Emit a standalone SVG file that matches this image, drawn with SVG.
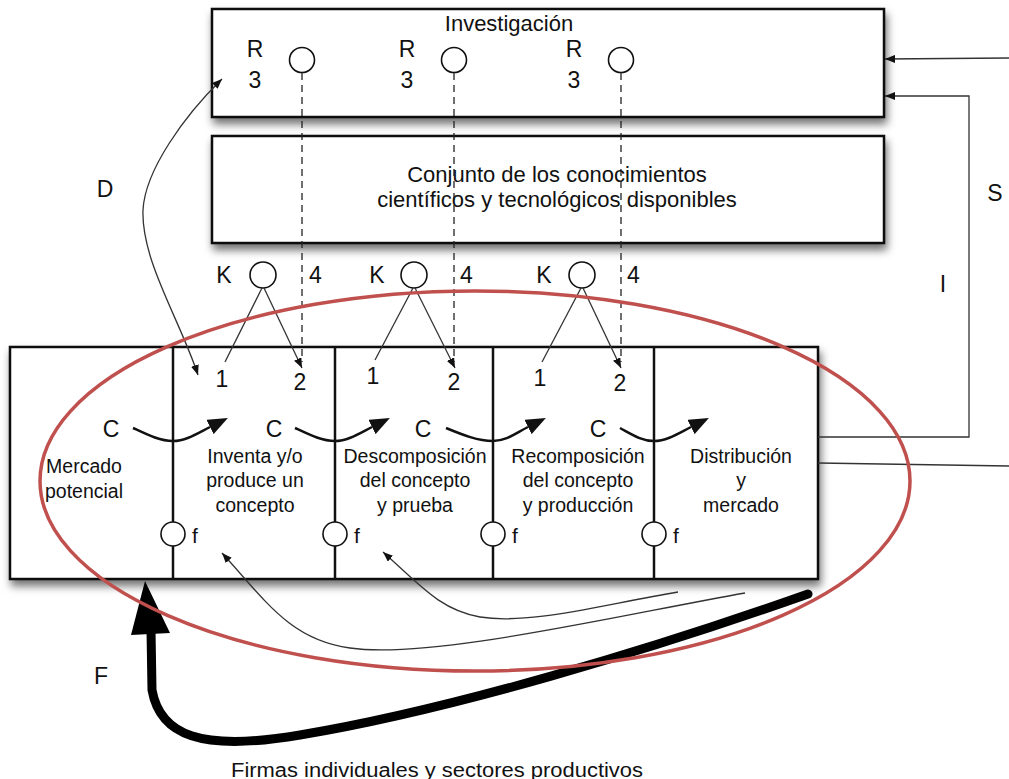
<svg xmlns="http://www.w3.org/2000/svg" width="1009" height="779" viewBox="0 0 1009 779">
<defs>
<style>
text{font-family:"Liberation Sans",Arial,sans-serif;fill:#111}
.box{fill:#fff;stroke:#111;stroke-width:2.5}
.lbl{font-size:23px}
.ct{font-size:19.5px;text-anchor:middle}
.thin{fill:none;stroke:#333;stroke-width:1.3}
.dash{fill:none;stroke:#222;stroke-width:1.3;stroke-dasharray:7 5}
.circ{fill:#fff;stroke:#111;stroke-width:1.6}
.div{stroke:#111;stroke-width:2.5}
.carr{fill:none;stroke:#111;stroke-width:2.5}
</style>
<filter id="sh" x="-10%" y="-20%" width="130%" height="150%">
<feDropShadow dx="2" dy="6" stdDeviation="4.5" flood-color="#000" flood-opacity="0.55"/>
</filter>
<marker id="ah" markerWidth="10" markerHeight="8" refX="10" refY="4" orient="auto-start-reverse" markerUnits="userSpaceOnUse">
<path d="M0,0 L10,4 L0,8 z" fill="#111"/>
</marker>
<marker id="big" markerWidth="20" markerHeight="16" refX="0" refY="8" orient="auto" markerUnits="userSpaceOnUse">
<path d="M0,0 L20,8 L0,16 z" fill="#111"/>
</marker>
</defs>

<g id="investigacion">
<rect class="box" x="212" y="9" width="672" height="108" filter="url(#sh)"/>
<text x="509" y="31" style="font-size:22px" text-anchor="middle">Investigación</text>
<text class="lbl" x="255" y="57" text-anchor="middle">R</text>
<text class="lbl" x="255" y="88" text-anchor="middle">3</text>
<text class="lbl" x="407" y="57" text-anchor="middle">R</text>
<text class="lbl" x="407" y="88" text-anchor="middle">3</text>
<text class="lbl" x="574" y="57" text-anchor="middle">R</text>
<text class="lbl" x="574" y="88" text-anchor="middle">3</text>
</g>

<g id="conocimientos">
<rect class="box" x="212" y="136" width="672" height="107" filter="url(#sh)"/>
<text x="557" y="182" style="font-size:22px" text-anchor="middle">Conjunto de los conocimientos</text>
<text x="557" y="207" style="font-size:22px" text-anchor="middle">científicos y tecnológicos disponibles</text>
</g>

<g id="firmas">
<rect class="box" x="10" y="347" width="808" height="232" filter="url(#sh)"/>
<line class="div" x1="173" y1="347" x2="173" y2="579"/>
<line class="div" x1="335" y1="347" x2="335" y2="579"/>
<line class="div" x1="493" y1="347" x2="493" y2="579"/>
<line class="div" x1="654" y1="347" x2="654" y2="579"/>
<text class="ct" x="84" y="473">Mercado</text>
<text class="ct" x="84" y="498">potencial</text>
<text class="ct" x="255" y="463">Inventa y/o</text>
<text class="ct" x="255" y="487">produce un</text>
<text class="ct" x="255" y="512">concepto</text>
<text class="ct" x="415" y="463">Descomposición</text>
<text class="ct" x="415" y="487">del concepto</text>
<text class="ct" x="415" y="512">y prueba</text>
<text class="ct" x="578" y="463">Recomposición</text>
<text class="ct" x="578" y="487">del concepto</text>
<text class="ct" x="578" y="512">y producción</text>
<text class="ct" x="741" y="463">Distribución</text>
<text class="ct" x="741" y="487">y</text>
<text class="ct" x="741" y="512">mercado</text>
<text class="lbl" x="111" y="437" text-anchor="middle">C</text>
<text class="lbl" x="274" y="437" text-anchor="middle">C</text>
<text class="lbl" x="423" y="437" text-anchor="middle">C</text>
<text class="lbl" x="598" y="437" text-anchor="middle">C</text>
<text class="lbl" x="222" y="387" text-anchor="middle">1</text>
<text class="lbl" x="300" y="390" text-anchor="middle">2</text>
<text class="lbl" x="373" y="384" text-anchor="middle">1</text>
<text class="lbl" x="454" y="390" text-anchor="middle">2</text>
<text class="lbl" x="540" y="386" text-anchor="middle">1</text>
<text class="lbl" x="620" y="391" text-anchor="middle">2</text>
<circle class="circ" cx="173" cy="534" r="12"/>
<circle class="circ" cx="335" cy="534" r="12"/>
<circle class="circ" cx="493" cy="534" r="12"/>
<circle class="circ" cx="654" cy="534" r="12"/>
<text x="192" y="543" style="font-size:21px">f</text>
<text x="354" y="543" style="font-size:21px">f</text>
<text x="512" y="543" style="font-size:21px">f</text>
<text x="673" y="543" style="font-size:21px">f</text>
</g>

<g id="k-nodes">
<circle class="circ" cx="263" cy="275" r="13"/>
<circle class="circ" cx="414" cy="275" r="13"/>
<circle class="circ" cx="582" cy="275" r="13"/>
<text class="lbl" x="224" y="283" text-anchor="middle">K</text>
<text class="lbl" x="377" y="283" text-anchor="middle">K</text>
<text class="lbl" x="544" y="283" text-anchor="middle">K</text>
<text class="lbl" x="309" y="283">4</text>
<text class="lbl" x="460" y="283">4</text>
<text class="lbl" x="627" y="283">4</text>
</g>

<g id="r-nodes">
<circle class="circ" cx="302" cy="60" r="12.5"/>
<circle class="circ" cx="454" cy="60" r="12.5"/>
<circle class="circ" cx="621" cy="60" r="12.5"/>
</g>

<g id="labels">
<text class="lbl" x="105" y="197" text-anchor="middle">D</text>
<text class="lbl" x="995" y="201" text-anchor="middle">S</text>
<text class="lbl" x="943" y="292" text-anchor="middle">I</text>
<text class="lbl" x="101" y="684" text-anchor="middle">F</text>
<text x="437" y="777" style="font-size:20px" text-anchor="middle" textLength="412" lengthAdjust="spacingAndGlyphs">Firmas individuales y sectores productivos</text>
</g>

<g id="connectors">
<line class="dash" x1="302" y1="73" x2="302" y2="362"/>
<line class="dash" x1="454" y1="73" x2="454" y2="362"/>
<line class="dash" x1="621" y1="73" x2="621" y2="362"/>
<line class="thin" x1="262" y1="288" x2="225" y2="362"/>
<line class="thin" x1="264" y1="288" x2="302" y2="368" marker-end="url(#ah)"/>
<line class="thin" x1="413" y1="288" x2="375" y2="360"/>
<line class="thin" x1="415" y1="288" x2="455" y2="368" marker-end="url(#ah)"/>
<line class="thin" x1="581" y1="288" x2="542" y2="362"/>
<line class="thin" x1="583" y1="288" x2="621" y2="368" marker-end="url(#ah)"/>
<path class="thin" d="M222 79 C185 115 145 170 143 210 C141 260 180 320 198 375" marker-start="url(#ah)" marker-end="url(#ah)"/>
<path class="thin" d="M1009 58 L885 59" marker-end="url(#ah)"/>
<path class="thin" d="M818 437 L969 437 L969 96 L885 96" marker-end="url(#ah)"/>
<path class="thin" d="M818 463 L1009 466"/>
<path class="carr" d="M133 428 C148 435 160 441 173 441 C186 441 198 433 210 427" marker-end="url(#big)"/>
<path class="carr" d="M295 428 C310 435 322 441 335 441 C348 441 360 433 372 427" marker-end="url(#big)"/>
<path class="carr" d="M446 428 C463 435 478 441 493 441 C506 441 516 433 528 427" marker-end="url(#big)"/>
<path class="carr" d="M620 428 C633 435 642 441 654 441 C667 441 679 433 691 427" marker-end="url(#big)"/>
<path class="thin" d="M745 593 C620 615 430 660 350 648 C290 640 265 600 222 553" marker-end="url(#ah)"/>
<path class="thin" d="M678 592 C600 605 530 625 480 617 C440 610 420 585 383 552" marker-end="url(#ah)"/>
<path d="M808 594 C650 650 450 710 300 735 C200 752 160 735 152 690 L151 630" fill="none" stroke="#000" stroke-width="9" stroke-linecap="round"/>
<polygon points="145,581 131,635 170,633" fill="#000"/>
</g>

<g id="highlight">
<ellipse cx="475" cy="481" rx="435" ry="190" fill="none" stroke="#c0504d" stroke-width="3.5"/>
</g>
</svg>
